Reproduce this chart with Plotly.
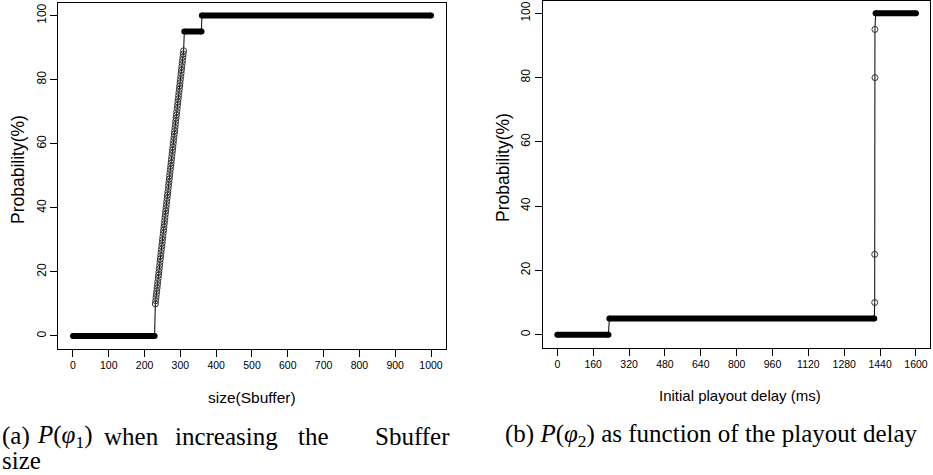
"""Two step-like probability curves (R base-graphics look) with LaTeX-style captions."""

import plotly.graph_objects as go

W, H = 933, 475

# ---- panel (a): P(phi1) vs Sbuffer size ----
a_flat_start = [0, 311, 360]
a_flat_end = [228, 359, 1000]
a_flat_y = [0, 95, 100]
a_ramp_x = [230, 231, 232, 233, 234, 235, 236, 237, 238, 239,
            240, 241, 242, 243, 244, 245, 246, 247, 248, 249,
            250, 251, 252, 253, 254, 255, 256, 257, 258, 259,
            260, 261, 262, 263, 264, 265, 266, 267, 268, 269,
            270, 271, 272, 273, 274, 275, 276, 277, 278, 279,
            280, 281, 282, 283, 284, 285, 286, 287, 288, 289,
            290, 291, 292, 293, 294, 295, 296, 297, 298, 299,
            300, 301, 302, 303, 304, 305, 306, 307, 308, 309]
a_ramp_y = [10, 11, 12, 13, 14, 15, 16, 17, 18, 19,
            20, 21, 22, 23, 24, 25, 26, 27, 28, 29,
            30, 31, 32, 33, 34, 35, 36, 37, 38, 39,
            40, 41, 42, 43, 44, 45, 46, 47, 48, 49,
            50, 51, 52, 53, 54, 55, 56, 57, 58, 59,
            60, 61, 62, 63, 64, 65, 66, 67, 68, 69,
            70, 71, 72, 73, 74, 75, 76, 77, 78, 79,
            80, 81, 82, 83, 84, 85, 86, 87, 88, 89]
a_xticks = [0, 100, 200, 300, 400, 500, 600, 700, 800, 900, 1000]

# ---- panel (b): P(phi2) vs initial playout delay ----
b_flat_start = [0, 232, 1420]
b_flat_end = [228, 1414, 1600]
b_flat_y = [0, 5, 100]
b_jump_x = [1416, 1416, 1417, 1417]
b_jump_y = [10, 25, 80, 95]
b_xticks = [0, 160, 320, 480, 640, 800, 960, 1120, 1280, 1440, 1600]

y_ticks = [0, 20, 40, 60, 80, 100]

SANS = "Liberation Sans"
SERIF = "Liberation Serif"
CAP_SIZE = 25


def px(x):
    return x / W


def py(y):
    return 1 - y / H


def add_panel(fig, xa, ya, starts, ends, levels, mid_x, mid_y):
    # thin connecting line through every point, in order
    pts = []
    for s, e, v in zip(starts, ends, levels):
        pts.append((s, v))
        pts.append((e, v))
    pts += list(zip(mid_x, mid_y))
    pts.sort(key=lambda p: (p[0], p[1]))
    fig.add_trace(go.Scatter(
        x=[p[0] for p in pts], y=[p[1] for p in pts], mode="lines",
        line=dict(color="black", width=1), xaxis=xa, yaxis=ya,
        hoverinfo="skip", showlegend=False,
    ))
    # dense plateaus look like solid strips
    for s, e, v in zip(starts, ends, levels):
        fig.add_trace(go.Scatter(
            x=[s, e], y=[v, v], mode="lines+markers",
            line=dict(color="black", width=6),
            marker=dict(color="black", size=6),
            xaxis=xa, yaxis=ya, showlegend=False,
        ))
    fig.add_trace(go.Scatter(
        x=mid_x, y=mid_y, mode="markers",
        marker=dict(symbol="circle-open", color="#333", size=6,
                    line=dict(width=1, color="#333")),
        xaxis=xa, yaxis=ya, showlegend=False,
    ))


fig = go.Figure()
add_panel(fig, "x", "y", a_flat_start, a_flat_end, a_flat_y, a_ramp_x, a_ramp_y)
add_panel(fig, "x2", "y2", b_flat_start, b_flat_end, b_flat_y, b_jump_x, b_jump_y)

axis_style = dict(
    showgrid=False, zeroline=False, showline=True, mirror=True,
    linecolor="black", linewidth=1, ticks="outside", ticklen=7,
    tickcolor="black", tickwidth=1,
)
xfont = dict(family=SANS, size=10.5, color="black")
yfont = dict(family=SANS, size=12, color="black")

fig.update_layout(
    width=W, height=H,
    margin=dict(l=0, r=0, t=0, b=0),
    paper_bgcolor="white", plot_bgcolor="white",
    xaxis=dict(domain=[px(58.3), px(445.5)], range=[-41, 1040.5],
               tickvals=a_xticks, tickfont=xfont, **axis_style),
    yaxis=dict(domain=[py(348.8), py(2.7)], range=[-4, 104],
               tickvals=y_ticks, tickangle=-90, tickfont=yfont, **axis_style),
    xaxis2=dict(domain=[px(543.0), px(930.3)], range=[-64, 1664],
                tickvals=b_xticks, anchor="y2", tickfont=xfont, **axis_style),
    yaxis2=dict(domain=[py(347.5), py(0.5)], range=[-4, 104],
                tickvals=y_ticks, tickangle=-90, anchor="x2", tickfont=yfont,
                **axis_style),
)

labels = [
    # (text, x, y, angle, size)
    ("Probability(%)", 18, 170, -90, 17.5),
    ("Probability(%)", 503, 168, -90, 17.5),
    ("size(Sbuffer)", 251.5, 397, 0, 15.5),
    ("Initial playout delay (ms)", 740, 395, 0, 15),
]
# justified first line of caption (a): (text, x, anchor)
caption_a = [
    ("(a)", 0, "left"),
    ("<i>P</i>(<i>φ</i><sub>1</sub>)", 35, "left"),
    ("when", 131, "center"),
    ("increasing", 226, "center"),
    ("the", 313, "center"),
    ("Sbuffer", 412, "center"),
]

for text, x, y, ang, size in labels:
    fig.add_annotation(
        text=text, x=px(x), y=py(y), xref="paper", yref="paper",
        textangle=ang, showarrow=False, xanchor="center", yanchor="middle",
        font=dict(family=SANS, size=size, color="black"),
    )

for text, x, anchor in caption_a:
    fig.add_annotation(
        text=text, x=px(x), y=py(436), xref="paper", yref="paper",
        showarrow=False, xanchor=anchor, yanchor="middle",
        font=dict(family=SERIF, size=CAP_SIZE, color="black"),
    )
fig.add_annotation(
    text="size", x=px(0), y=py(460), xref="paper", yref="paper",
    showarrow=False, xanchor="left", yanchor="middle",
    font=dict(family=SERIF, size=CAP_SIZE, color="black"),
)
fig.add_annotation(
    text="(b) <i>P</i>(<i>φ</i><sub>2</sub>) as function of the playout delay",
    x=px(711), y=py(435), xref="paper", yref="paper",
    showarrow=False, xanchor="center", yanchor="middle",
    font=dict(family=SERIF, size=CAP_SIZE, color="black"),
)

fig.write_html("out.html", config={"displayModeBar": False},
               post_script="document.body.style.margin='0';")
